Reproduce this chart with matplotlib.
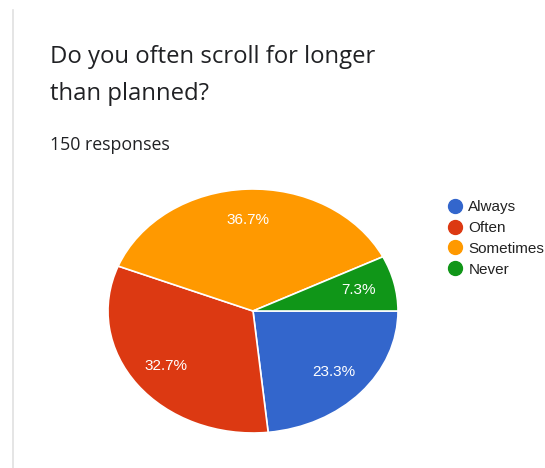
import matplotlib.pyplot as plt
from matplotlib.lines import Line2D

plt.rcParams['font.family'] = ['Liberation Sans', 'DejaVu Sans']

# Survey answers
answers = ['Always', 'Often', 'Sometimes', 'Never']
counts = [35, 49, 55, 11]
colors = ['#3366cc', '#dc3912', '#ff9900', '#109618']
total = sum(counts)

W, H = 545, 468
fig = plt.figure(figsize=(W / 100, H / 100), dpi=100)
fig.patch.set_facecolor('white')

# thin card border on the left
fig.add_artist(Line2D([13 / W, 13 / W], [0, 1 - 10 / H], color='#e0e0e0', lw=1.2))

head = dict(family=['Open Sans', 'DejaVu Sans'], color='#202124')
fig.text(50 / W, 1 - 63 / H, 'Do you often scroll for longer', fontsize=17.2, **head)
fig.text(50 / W, 1 - 100 / H, 'than planned?', fontsize=17.2, **head)
fig.text(50 / W, 1 - 150 / H, f'{total} responses', fontsize=12.8, **head)

# pie axes (slightly stretched horizontally)
x0, x1, y0, y1 = 108, 398, 189, 433
ax = fig.add_axes([x0 / W, 1 - y1 / H, (x1 - x0) / W, (y1 - y0) / H])
wedges, texts, autotexts = ax.pie(
    counts, colors=colors, startangle=0, counterclock=False,
    autopct='%1.1f%%', pctdistance=0.75,
    wedgeprops=dict(edgecolor='white', linewidth=1.2),
    textprops=dict(color='white', fontsize=11))
ax.set_aspect('auto')
ax.set_xlim(-1.0, 1.0)
ax.set_ylim(-1.0, 1.0)

handles = [Line2D([], [], marker='o', ls='', markersize=10, markerfacecolor=c,
                  markeredgecolor=c) for c in colors]
fig.legend(handles, answers, loc='upper left', bbox_to_anchor=(447 / W, 1 - 200 / H),
           frameon=False, fontsize=11, handletextpad=0.3, labelspacing=0.45,
           borderaxespad=0, borderpad=0, handlelength=1.1, labelcolor='#222222')

fig.savefig('out.png', dpi=100, facecolor='white')
